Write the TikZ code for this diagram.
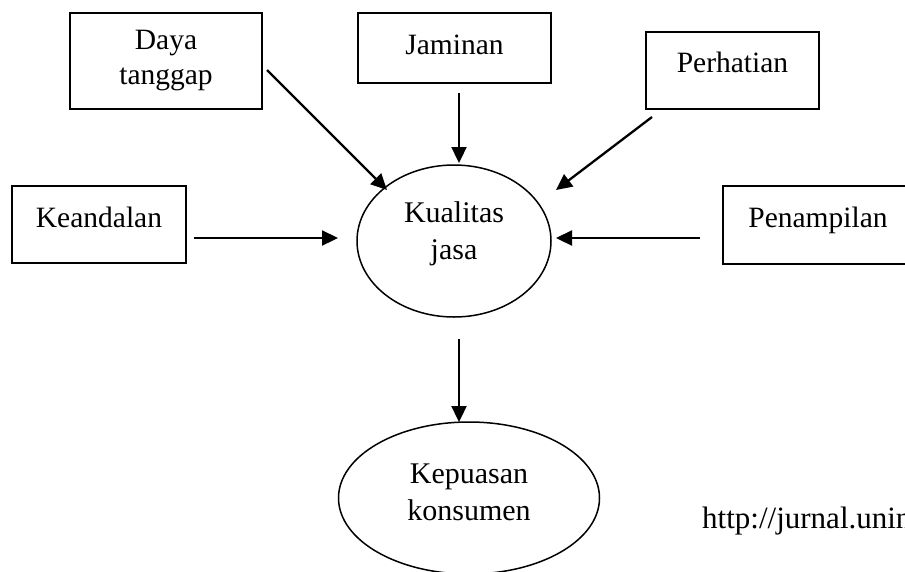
\documentclass[tikz,border=0pt]{standalone}
\usepackage{fontspec}
\setmainfont{Liberation Serif}
\usetikzlibrary{arrows.meta,shapes.geometric}
\newcommand{\dropd}[1]{\rule[-#1]{0pt}{0pt}}
\tikzset{
  boxnode/.style={draw, line width=1.6pt, rectangle, inner sep=0pt, align=center,
    font=\fontsize{29.5}{35}\selectfont},
  ellnode/.style={draw, line width=1.5pt, ellipse, inner sep=0pt, align=center,
    font=\fontsize{30}{37}\selectfont},
  arr/.style={line width=2.3pt, -{Triangle[length=16pt,width=15pt]}},
  urltext/.style={anchor=base west, inner sep=0pt, font=\fontsize{31}{36}\selectfont}
}
\begin{document}
\begin{tikzpicture}[x=1pt,y=-1pt]
\clip (0,0) rectangle (905,571);
\fill[white] (0,0) rectangle (905,571);

\node[boxnode, minimum width=192pt, minimum height=96pt] (daya) at (166,61) {Daya\\tanggap};
\node[boxnode, minimum width=193pt, minimum height=70pt] (jam) at (454.5,48) {Jaminan\dropd{6pt}};
\node[boxnode, minimum width=173pt, minimum height=77pt] (perh) at (732.5,70.5) {Perhatian\dropd{17pt}};
\node[boxnode, minimum width=174pt, minimum height=77pt] (kean) at (99,224.5) {Keandalan\dropd{15pt}};
\node[boxnode, minimum width=190pt, minimum height=78pt] (pen) at (818,225) {Penampilan\dropd{16pt}};

\node[ellnode, minimum width=194pt, minimum height=152pt] (kual) at (454,241) {Kualitas\\jasa\dropd{20pt}};
\node[ellnode, minimum width=261pt, minimum height=152pt] (kep) at (469,498) {Kepuasan\\konsumen\dropd{11pt}};

\node[urltext] (url) at (702,528) {http://jurnal.unin};

\coordinate (c1s) at (267,70);  \coordinate (c1e) at (387,190);
\coordinate (c2s) at (459,93);  \coordinate (c2e) at (459,163);
\coordinate (c3s) at (652,117); \coordinate (c3e) at (556,190);
\coordinate (c4s) at (194,238); \coordinate (c4e) at (338,238);
\coordinate (c5s) at (700,238); \coordinate (c5e) at (556,238);
\coordinate (c6s) at (459,339); \coordinate (c6e) at (459,422);

\draw[arr] (c1s) -- (c1e);
\draw[arr] (c2s) -- (c2e);
\draw[arr] (c3s) -- (c3e);
\draw[arr] (c4s) -- (c4e);
\draw[arr] (c5s) -- (c5e);
\draw[arr] (c6s) -- (c6e);
\end{tikzpicture}
\end{document}
